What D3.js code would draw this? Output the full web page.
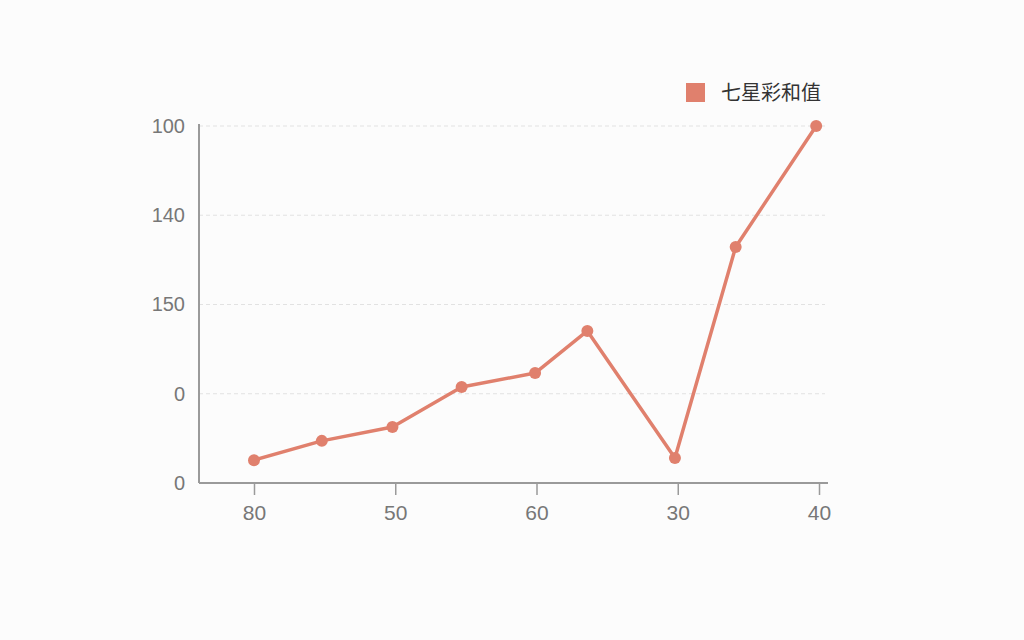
<!DOCTYPE html>
<html><head><meta charset="utf-8">
<script src="https://cdn.jsdelivr.net/npm/d3@7/dist/d3.min.js"></script>
<style>
html,body{margin:0;padding:0;background:#fcfcfc;}
svg{display:block;font-family:"Liberation Sans","Noto Sans",sans-serif;}
</style></head>
<body>
<svg id="chart" width="1024" height="640"></svg>
<script>
// data
const seriesName = "七星彩和值";
const xValues = [0, 0.48, 0.98, 1.47, 1.99, 2.36, 2.98, 3.41, 3.98];
const yValues = [6.4, 11.8, 15.7, 26.9, 30.8, 42.6, 7.0, 66.1, 100];
const xTickValues = [0, 1, 2, 3, 4];
const xTickLabels = ["80", "50", "60", "30", "40"];
const yTickValues = [0, 25, 50, 75, 100];
const yTickLabels = ["0", "0", "150", "140", "100"];

const color = "#e0806d";
const svg = d3.select("#chart");
const m = {left:199, right:1024-828, top:126, bottom:640-483};
const W = 1024, H = 640;

const x = d3.scaleLinear().domain([0,4]).range([254, 819]);
const y = d3.scaleLinear().domain([0,100]).range([H-m.bottom, m.top]);

// gridlines
svg.append("g").selectAll("line").data(yTickValues.slice(1)).join("line")
  .attr("x1", m.left).attr("x2", 825)
  .attr("y1", d=>y(d)).attr("y2", d=>y(d))
  .attr("stroke", "#e2e2e2").attr("stroke-width", 1).attr("stroke-dasharray", "4,3");

// y axis
const yAxis = svg.append("g").attr("transform", `translate(${m.left},0)`)
  .call(d3.axisLeft(y).tickValues(yTickValues).tickSize(0).tickPadding(14)
    .tickFormat((d,i)=>yTickLabels[i]));
yAxis.select(".domain").attr("stroke", "#9a9a9a").attr("stroke-width", 2)
  .attr("d", `M0,${y(100)-2}V${y(0)}`);
yAxis.selectAll("text").attr("fill", "#777").attr("font-size", 20);

// x axis
const xAxis = svg.append("g").attr("transform", `translate(0,${y(0)})`)
  .call(d3.axisBottom(x).tickValues(xTickValues).tickSize(12).tickPadding(10)
    .tickFormat((d,i)=>xTickLabels[i]));
xAxis.select(".domain").attr("stroke", "#9a9a9a").attr("stroke-width", 2)
  .attr("d", `M${m.left},0H828`);
xAxis.selectAll(".tick line").attr("stroke", "#9a9a9a").attr("stroke-width", 1.5);
xAxis.selectAll("text").attr("fill", "#777").attr("font-size", 21);

// line
const pts = xValues.map((v,i)=>({x:v, y:yValues[i]}));
svg.append("path").datum(pts)
  .attr("fill","none").attr("stroke", color).attr("stroke-width", 3.5)
  .attr("stroke-linejoin","round")
  .attr("d", d3.line().x(d=>x(d.x)).y(d=>y(d.y)));
svg.append("g").selectAll("circle").data(pts).join("circle")
  .attr("cx", d=>x(d.x)).attr("cy", d=>y(d.y)).attr("r", 6)
  .attr("fill", color);

// legend
const lg = svg.append("g").attr("transform","translate(686,83)");
lg.append("rect").attr("width",19).attr("height",19).attr("fill", color);
lg.append("text").attr("x",35).attr("y",17).text(seriesName)
  .attr("font-family",'"Noto Sans CJK SC",sans-serif')
  .attr("font-size",20).attr("fill","#333");
</script>
</body></html>
